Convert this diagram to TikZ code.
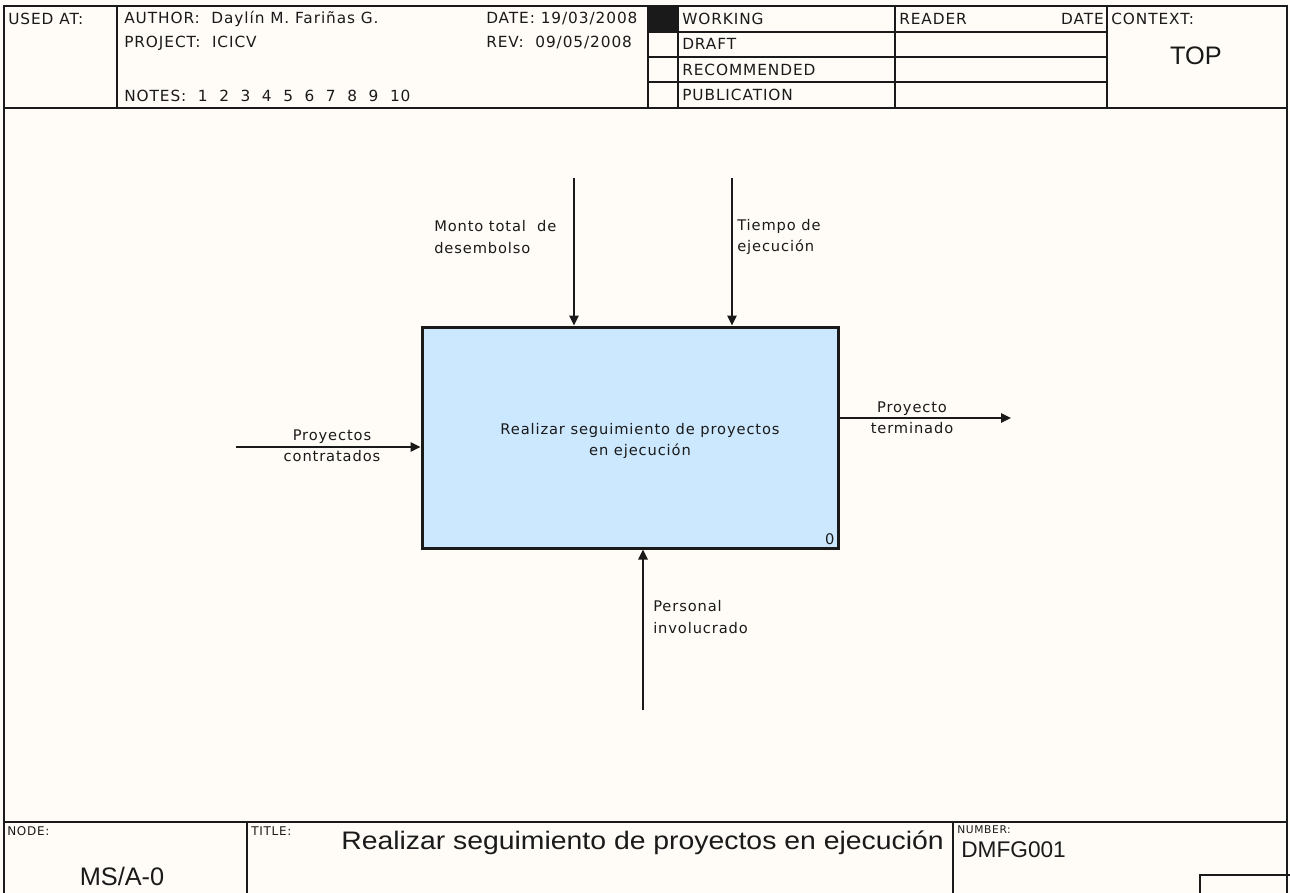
\documentclass[tikz,border=0pt]{standalone}
\usepackage{fontspec}
\usepackage{graphicx}
\newfontfamily\pixfont{DejaVu Sans}[LetterSpace=6]
\newfontfamily\plainfont{Liberation Sans}
\usetikzlibrary{arrows.meta}
\definecolor{paper}{HTML}{FFFCF7}
\definecolor{boxblue}{HTML}{CCE8FF}
\definecolor{ink}{HTML}{1A1A1A}
\tikzset{
  frame/.style={draw=ink, line width=1.5pt},
  hdr/.style={font=\pixfont\fontsize{11.5}{13}\selectfont, inner sep=0pt, anchor=west, text=ink},
  small/.style={font=\pixfont\fontsize{9}{10}\selectfont, inner sep=0pt, anchor=north west, text=ink},
  lbl/.style={font=\pixfont\fontsize{11}{16}\selectfont, inner sep=0pt, text=ink},
  big/.style={font=\plainfont\fontsize{19}{22}\selectfont, inner sep=0pt, text=ink},
  activity/.style={draw=ink, fill=boxblue, line width=2.25pt, rectangle,
    minimum width=312pt, minimum height=165.75pt, inner sep=0pt},
  flow/.style={draw=ink, line width=1.3pt, -{Triangle[length=7.5pt,width=7pt]}}
}
\begin{document}
\begin{tikzpicture}[x=0.75pt, y=-0.75pt]
  \useasboundingbox (0,0) rectangle (1290,893);
  \clip (0,0) rectangle (1290,893);
  \fill[paper] (0,0) rectangle (1290,893);

  % ---- outer frame ----
  \draw[frame] (4,900) -- (4,6) -- (1287,6) -- (1287,900);
  \draw[frame] (4,108) -- (1287,108);
  \draw[frame] (4,822) -- (1287,822);

  % ---- header grid ----
  \draw[frame] (117,6) -- (117,108);
  \draw[frame] (648,6) -- (648,108);
  \draw[frame] (678,6) -- (678,108);
  \draw[frame] (895,6) -- (895,108);
  \draw[frame] (1107,6) -- (1107,108);
  \foreach \yy in {32,57,82} \draw[frame] (648,\yy) -- (1107,\yy);
  \fill[ink] (648,6) rectangle (678,32);

  % ---- header texts ----
  \node[hdr] (usedat) at (8,19) {USED AT:};
  \node[hdr] (author) at (124,19) {AUTHOR:\ \ Daylín M. Fariñas G.};
  \node[hdr] (project) at (124,43) {PROJECT:\ \ ICICV};
  \node[hdr] (notes) at (124,96) {NOTES:\ \ 1\ \ 2\ \ 3\ \ 4\ \ 5\ \ 6\ \ 7\ \ 8\ \ 9\ \ 10};
  \node[hdr] (date) at (486,19) {DATE: 19/03/2008};
  \node[hdr] (rev) at (486,43) {REV:\ \ 09/05/2008};
  \node[hdr] (working) at (682,19) {WORKING};
  \node[hdr] (draft) at (682,44) {DRAFT};
  \node[hdr] (recommended) at (682,70) {RECOMMENDED};
  \node[hdr] (publication) at (682,95) {PUBLICATION};
  \node[hdr] (reader) at (899,19) {READER};
  \node[hdr, anchor=east] (rdate) at (1104,19) {DATE};
  \node[hdr] (context) at (1111,19) {CONTEXT:};
  \node[big] (top) at (1196,56) {TOP};

  % ---- footer ----
  \draw[frame] (247,822) -- (247,900);
  \draw[frame] (953,822) -- (953,900);
  \draw[frame] (1200,900) -- (1200,875) -- (1290,875);
  \node[small] (nodelbl) at (7,826) {NODE:};
  \node[big] (nodeid) at (122,876) {MS/A-0};
  \node[small] (titlelbl) at (251,826) {TITLE:};
  \node[big, anchor=west] (title) at (341,843) {\scalebox{1.12}[1]{Realizar seguimiento de proyectos en ejecución}};
  \node[small, font=\pixfont\fontsize{8}{9}\selectfont] (numlbl) at (957,825) {NUMBER:};
  \node[big, anchor=west, font=\plainfont\fontsize{17}{20}\selectfont] (number) at (961,850) {DMFG001};

  % ---- activity box ----
  \node[activity] (box) at (630,437.5) {};
  \node[lbl, align=center] (boxtext) at (640,441) {Realizar seguimiento de proyectos\\en ejecución};
  \node[lbl, fill=boxblue, inner sep=1pt, anchor=south east] (boxnum) at (836,546) {0};

  % ---- connectors ----
  \coordinate (ctrlA) at (574,178);
  \coordinate (ctrlB) at (732,178);
  \coordinate (inA) at (236,447);
  \coordinate (outA) at (1011,418);
  \coordinate (mechA) at (643,710);

  \draw[flow] (ctrlA) -- (ctrlA |- box.north);
  \draw[flow] (ctrlB) -- (ctrlB |- box.north);
  \draw[flow] (inA) -- (inA -| box.west);
  \draw[flow] (outA -| box.east) -- (outA);
  \draw[flow] (mechA) -- (mechA |- box.south);

  % ---- connector labels ----
  \node[lbl, align=left, anchor=west] (ctrlAlbl) at (434,237) {Monto total\ \ de\\desembolso};
  \node[lbl, align=left, anchor=west] (ctrlBlbl) at (737,237) {Tiempo de\\ejecución};
  \node[lbl, align=center] (inAlbl) at (332,446) {Proyectos\\contratados};
  \node[lbl, align=center] (outAlbl) at (912,418) {Proyecto\\terminado};
  \node[lbl, align=left, anchor=west] (mechAlbl) at (653,617) {Personal\\involucrado};
\end{tikzpicture}
\end{document}
